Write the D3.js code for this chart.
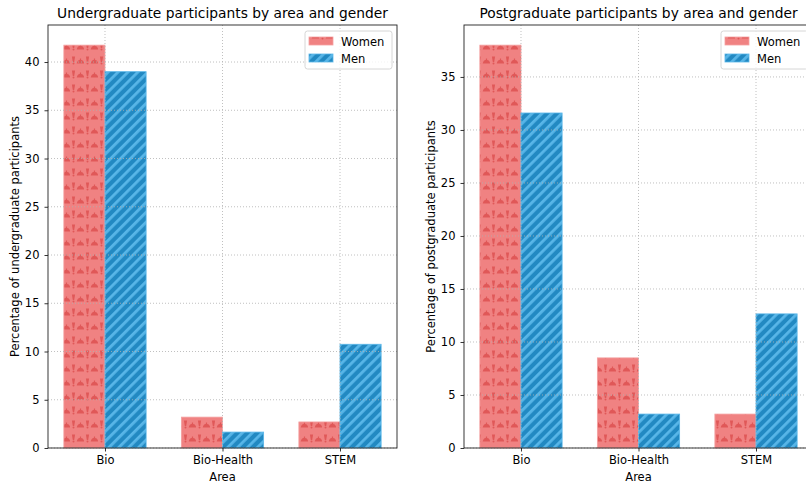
<!DOCTYPE html>
<html><head><meta charset="utf-8">
<script src="https://cdn.jsdelivr.net/npm/d3@7"></script>
<style>
body{margin:0;background:#fff;}
text{font-family:"DejaVu Sans",sans-serif;fill:#000;}
</style></head>
<body><svg id="c" width="806" height="487"></svg>
<script>
const categories = ["Bio", "Bio-Health", "STEM"];
const seriesNames = ["Women", "Men"];
const underWomen = [41.75, 3.2, 2.7];
const underMen = [39.0, 1.65, 10.75];
const postWomen = [38.0, 8.5, 3.2];
const postMen = [31.6, 3.2, 12.65];
const underTicks = [0, 5, 10, 15, 20, 25, 30, 35, 40];
const postTicks = [0, 5, 10, 15, 20, 25, 30, 35];

const svg = d3.select("#c");
const defs = svg.append("defs");

const glyphCol = "#e05858";
const pw = defs.append("pattern").attr("id", "pWomen").attr("patternUnits", "userSpaceOnUse")
  .attr("width", 14).attr("height", 14);
pw.append("rect").attr("width", 14).attr("height", 14).attr("fill", "#f08282");
function bang(g, x, y) {
  g.append("path").attr("d", `M${x-1.6},${y} L${x+1.6},${y} L${x+0.7},${y+5.5} L${x-0.7},${y+5.5} Z`).attr("fill", glyphCol);
  g.append("circle").attr("cx", x).attr("cy", y + 7).attr("r", 1.0).attr("fill", glyphCol);
}
function dome(g, x, y) {
  g.append("path").attr("d", `M${x-3.8},${y} Q${x-3.2},${y-3.8} ${x},${y-3.8} Q${x+3.2},${y-3.8} ${x+3.8},${y} Z`).attr("fill", glyphCol);
  g.append("rect").attr("x", x-0.6).attr("y", y-5).attr("width", 1.2).attr("height", 1.5).attr("fill", glyphCol);
}
bang(pw, 3.5, 0.5);
dome(pw, 10.5, 7.5);

const pm = defs.append("pattern").attr("id", "pMen").attr("patternUnits", "userSpaceOnUse")
  .attr("width", 7).attr("height", 7).attr("patternTransform", "rotate(45)");
pm.append("rect").attr("width", 7).attr("height", 7).attr("fill", "#2289c2");
pm.append("rect").attr("x", 0).attr("width", 2.8).attr("height", 7).attr("fill", "#58b6e8");

const panels = [
  {x0: 48, x1: 397, title: "Undergraduate participants by area and gender",
   ylabel: "Percentage of undergraduate participants", women: underWomen, men: underMen, ticks: underTicks},
  {x0: 464, x1: 813, title: "Postgraduate participants by area and gender",
   ylabel: "Percentage of postgraduate participants", women: postWomen, men: postMen, ticks: postTicks}
];
const plotTop = 25, plotBottom = 448;
const bw = 0.35;
const fs = 11.5, tfs = 13.8;

panels.forEach(p => {
  const g = svg.append("g");
  const maxV = d3.max([...p.women, ...p.men]);
  const y = d3.scaleLinear().domain([0, maxV * 1.05]).range([plotBottom, plotTop]);
  const x = d3.scaleLinear().domain([-0.485, 2.485]).range([p.x0, p.x1]);

  const data = [];
  categories.forEach((c, i) => {
    data.push({i, v: p.women[i], s: 0});
    data.push({i, v: p.men[i], s: 1});
  });
  g.selectAll("rect.bar").data(data).join("rect")
    .attr("x", d => x(d.i + (d.s === 0 ? -bw : 0)))
    .attr("width", d => x(bw) - x(0))
    .attr("y", d => y(d.v))
    .attr("height", d => y(0) - y(d.v))
    .attr("fill", d => d.s === 0 ? "url(#pWomen)" : "url(#pMen)")
    .attr("stroke", d => d.s === 0 ? "#f4a0a0" : "#5ab6e8")
    .attr("stroke-width", 0.8);

  const grid = g.append("g").attr("stroke", "#b0b0b0").attr("stroke-width", 0.8).attr("stroke-dasharray", "1,2");
  p.ticks.forEach(t => {
    grid.append("line").attr("x1", p.x0).attr("x2", p.x1).attr("y1", y(t)).attr("y2", y(t));
  });
  categories.forEach((c, i) => {
    grid.append("line").attr("x1", x(i)).attr("x2", x(i)).attr("y1", plotTop).attr("y2", plotBottom);
  });

  const yAxis = d3.axisLeft(y).tickValues(p.ticks).tickSize(3.5).tickPadding(5);
  const ya = g.append("g").attr("transform", `translate(${p.x0},0)`).call(yAxis);
  const xAxis = d3.axisBottom(x).tickValues([0,1,2]).tickFormat(i => categories[i]).tickSize(3.5).tickPadding(4.5);
  const xa = g.append("g").attr("transform", `translate(0,${plotBottom})`).call(xAxis);
  [ya, xa].forEach(a => {
    a.select(".domain").remove();
    a.selectAll("text").attr("font-size", fs).attr("font-family", "DejaVu Sans").attr("fill", "#000");
    a.selectAll("line").attr("stroke", "#000").attr("stroke-width", 0.8);
  });

  g.append("rect").attr("x", p.x0).attr("y", plotTop).attr("width", p.x1 - p.x0).attr("height", plotBottom - plotTop)
    .attr("fill", "none").attr("stroke", "#222").attr("stroke-width", 0.9);

  g.append("text").attr("x", (p.x0 + p.x1) / 2).attr("y", 18).attr("text-anchor", "middle")
    .attr("font-size", tfs).text(p.title);
  g.append("text").attr("x", (p.x0 + p.x1) / 2).attr("y", 481).attr("text-anchor", "middle")
    .attr("font-size", fs).text("Area");
  g.append("text").attr("transform", `translate(${p.x0 - 29},${(plotTop + plotBottom) / 2}) rotate(-90)`)
    .attr("text-anchor", "middle").attr("font-size", fs).text(p.ylabel);

  const lx = p.x1 - 92, ly = 31;
  const lg = g.append("g").attr("transform", `translate(${lx},${ly})`);
  lg.append("rect").attr("width", 87).attr("height", 38).attr("rx", 2.5)
    .attr("fill", "#fff").attr("fill-opacity", 0.8).attr("stroke", "#cccccc").attr("stroke-width", 0.8);
  seriesNames.forEach((s, i) => {
    lg.append("rect").attr("x", 4).attr("y", 6 + i * 17).attr("width", 24).attr("height", 8)
      .attr("fill", i === 0 ? "url(#pWomen)" : "url(#pMen)")
      .attr("stroke", i === 0 ? "#f4a0a0" : "#5ab6e8").attr("stroke-width", 0.8);
    lg.append("text").attr("x", 36).attr("y", 14.5 + i * 17).attr("font-size", fs).text(s);
  });
});
</script></body></html>
